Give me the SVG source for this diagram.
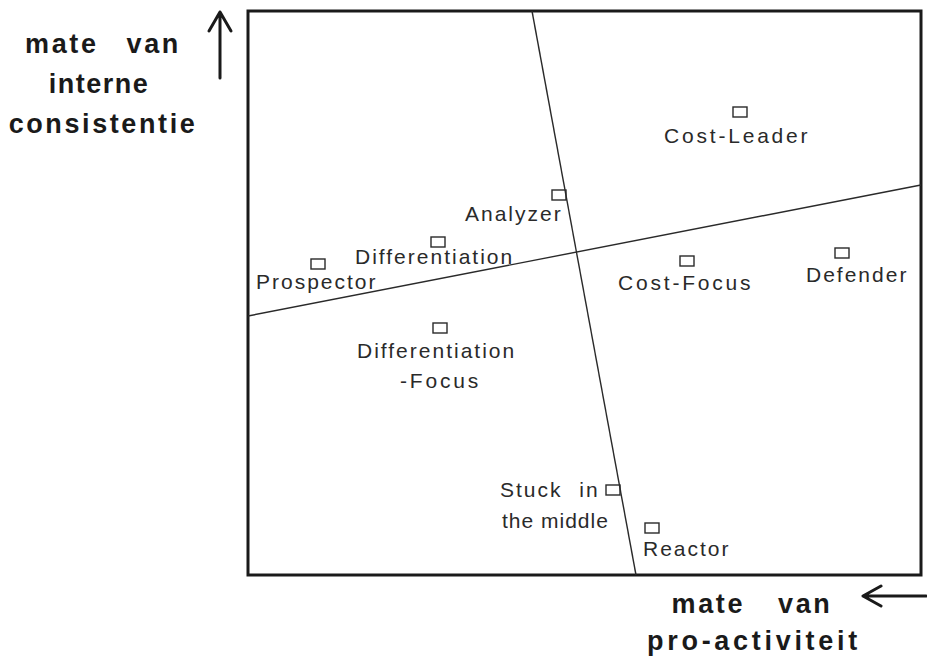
<svg xmlns="http://www.w3.org/2000/svg" width="927" height="662" viewBox="0 0 927 662">
<style>
.lbl{font-family:"Liberation Sans",Arial,sans-serif;font-size:21px;letter-spacing:2px;fill:#2a2a2a}
.ax{font-family:"Liberation Sans",Arial,sans-serif;font-size:27px;font-weight:bold;letter-spacing:2.6px;fill:#1a1a1a}
.pt{fill:none;stroke:#2a2a2a;stroke-width:1.4}
.div{fill:none;stroke:#2a2a2a;stroke-width:1.4}
.arr{fill:none;stroke:#1a1a1a;stroke-width:3;stroke-linecap:round;stroke-linejoin:round}
</style>
<rect width="927" height="662" fill="#fff"/>
<g id="frame">
<rect x="248" y="11" width="673" height="564" fill="none" stroke="#1a1a1a" stroke-width="3"/>
</g>
<g id="connectors">
<line class="div" x1="532" y1="11" x2="636" y2="575"/>
<line class="div" x1="248" y1="316" x2="921" y2="185"/>
<path class="arr" d="M220,78 V12 M209,31 L220,12 L231,31"/>
<path class="arr" d="M926,596 H863 M881,586 L863,596 L881,606"/>
</g>
<g id="axis-y">
<text class="ax" x="103" y="53" text-anchor="middle" style="word-spacing:18px">mate van</text>
<text class="ax" x="99" y="93" text-anchor="middle" style="letter-spacing:1.5px">interne</text>
<text class="ax" x="103" y="133" text-anchor="middle">consistentie</text>
</g>
<g id="axis-x">
<text class="ax" x="752" y="613" text-anchor="middle" style="word-spacing:23px">mate van</text>
<text class="ax" x="754" y="650" text-anchor="middle" style="letter-spacing:3.7px">pro-activiteit</text>
</g>
<g id="cost-leader">
<rect class="pt" x="733" y="107" width="14" height="10"/>
<text class="lbl" x="664" y="143" style="letter-spacing:2.8px">Cost-Leader</text>
</g>
<g id="analyzer">
<rect class="pt" x="552" y="190" width="14" height="10"/>
<text class="lbl" x="465" y="221">Analyzer</text>
</g>
<g id="differentiation">
<rect class="pt" x="431" y="237" width="14" height="10"/>
<text class="lbl" x="355" y="264">Differentiation</text>
</g>
<g id="prospector">
<rect class="pt" x="311" y="259" width="14" height="10"/>
<text class="lbl" x="256" y="289">Prospector</text>
</g>
<g id="cost-focus">
<rect class="pt" x="680" y="256" width="14" height="10"/>
<text class="lbl" x="618" y="290" style="letter-spacing:2.8px">Cost-Focus</text>
</g>
<g id="defender">
<rect class="pt" x="835" y="248" width="14" height="10"/>
<text class="lbl" x="806" y="282">Defender</text>
</g>
<g id="differentiation-focus">
<rect class="pt" x="433" y="323" width="14" height="10"/>
<text class="lbl" x="357" y="358">Differentiation</text>
<text class="lbl" x="400" y="388" style="letter-spacing:2.8px">-Focus</text>
</g>
<g id="stuck-in-the-middle">
<rect class="pt" x="606" y="485" width="14" height="10"/>
<text class="lbl" x="500" y="497" style="word-spacing:9px">Stuck in</text>
<text class="lbl" x="502" y="528" style="letter-spacing:1px">the middle</text>
</g>
<g id="reactor">
<rect class="pt" x="645" y="523" width="14" height="10"/>
<text class="lbl" x="643" y="556">Reactor</text>
</g>
</svg>
